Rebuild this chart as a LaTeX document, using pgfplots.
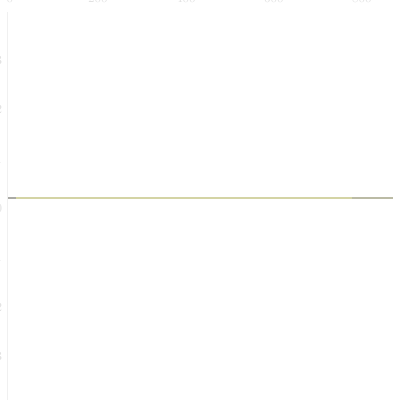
\documentclass[border=0pt]{standalone}
\usepackage{pgfplots}
\pgfplotsset{compat=1.18}
\definecolor{faint}{RGB}{225,225,225}
\definecolor{paleline}{RGB}{212,212,165}
\definecolor{endgray}{RGB}{170,170,165}
\begin{document}
\begin{tikzpicture}
  \useasboundingbox (0,0) rectangle (10,10);
  \clip (0,0) rectangle (10,10);
  \begin{axis}[
    at={(0.175cm,9.7cm)},
    anchor=north west,
    scale only axis,
    width=9.65cm,
    height=10.2cm,
    xmin=-0.68, xmax=87.05,
    ymin=-4.27, ymax=3.97,
    xtick={0,20,40,60,80},
    xticklabels={0,200,400,600,800},
    ytick={-3,-2,-1,0,1,2,3},
    xticklabel pos=upper,
    axis line style={draw=none},
    tick style={draw=none},
    ticklabel style={font=\small, text=faint},
    xticklabel style={yshift=3pt},
    axis x line*=top,
    axis y line*=left,
    clip=false,
  ]
  % the one series, flat across the whole range
  \addplot[paleline, line width=1.8pt] coordinates {
    (-0.68, 0.21)
    (87.05, 0.21)
  };
  % darker ends of the line
  \addplot[endgray, line width=1.8pt] coordinates {
    (-0.68, 0.21)
    (1.3, 0.21)
  };
  \addplot[endgray!60!paleline, line width=1.8pt] coordinates {
    (77.7, 0.21)
    (87.05, 0.21)
  };
  \end{axis}
  % faint left edge of the plot area
  \draw[faint!50, line width=0.4pt] (0.175cm,0) -- (0.175cm,9.7cm);
\end{tikzpicture}
\end{document}
